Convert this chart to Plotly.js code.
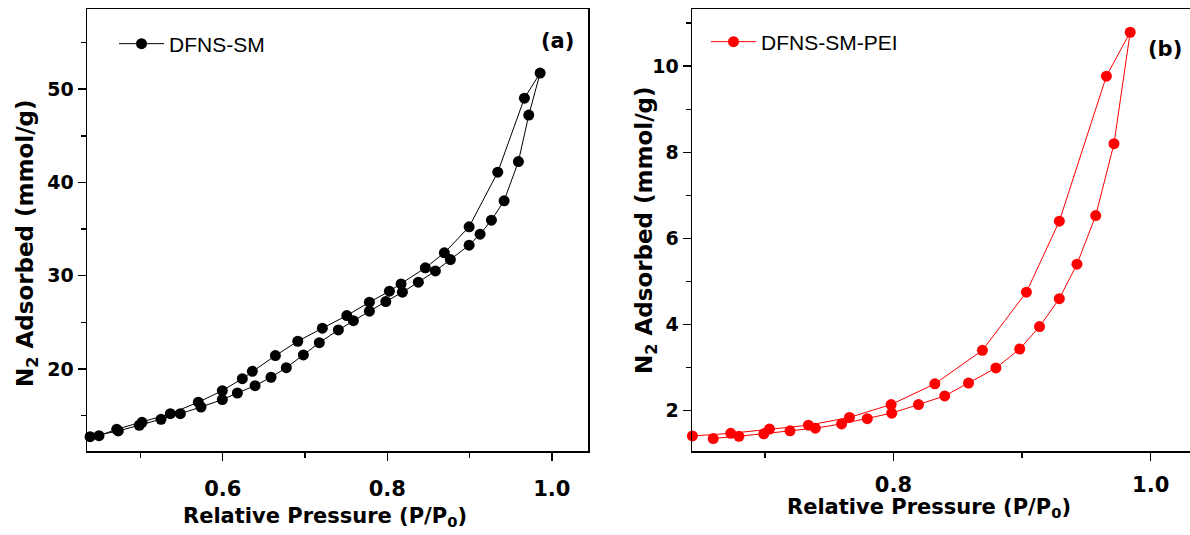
<!DOCTYPE html>
<html>
<head>
<meta charset="utf-8">
<script src="https://cdn.plot.ly/plotly-3.0.1.min.js"></script>
<style>
  html, body { margin: 0; padding: 0; background: #fff; }
  #chart { width: 1190px; height: 535px; }
</style>
</head>
<body>
<div id="chart"></div>
<script>
// ---- Panel (a): DFNS-SM ----
const smAdsP = [0.4387, 0.473, 0.4986, 0.525, 0.5485, 0.5736, 0.5995, 0.6178, 0.6393, 0.6587, 0.6773, 0.698, 0.7174, 0.7406, 0.7588, 0.7783, 0.7982, 0.8184, 0.8378, 0.8585, 0.8767, 0.8995, 0.9128, 0.9266, 0.942, 0.9594, 0.972, 0.9858];
const smAdsQ = [12.74, 13.35, 13.96, 14.6, 15.2, 15.92, 16.71, 17.42, 18.21, 19.11, 20.14, 21.5, 22.82, 24.18, 25.18, 26.19, 27.22, 28.23, 29.3, 30.51, 31.73, 33.27, 34.45, 35.95, 38.03, 42.24, 47.22, 51.73];
const smDesP = [0.9667, 0.9343, 0.8995, 0.8694, 0.8463, 0.8168, 0.8026, 0.7783, 0.7508, 0.7211, 0.6912, 0.664, 0.636, 0.6238, 0.5995, 0.5703, 0.5363, 0.5019, 0.4711, 0.4496];
const smDesQ = [49.04, 41.1, 35.24, 32.45, 30.84, 29.12, 28.34, 27.16, 25.72, 24.37, 22.97, 21.43, 19.75, 18.96, 17.67, 16.43, 15.2, 14.28, 13.53, 12.84];

// ---- Panel (b): DFNS-SM-PEI ----
const peiAdsP = [0.6599, 0.6799, 0.6992, 0.7196, 0.7393, 0.7597, 0.7797, 0.7987, 0.8195, 0.8399, 0.8584, 0.8797, 0.8982, 0.9136, 0.929, 0.9427, 0.9573, 0.9715, 0.9841];
const peiAdsQ = [1.35, 1.40, 1.46, 1.53, 1.59, 1.69, 1.81, 1.94, 2.14, 2.34, 2.64, 2.99, 3.43, 3.95, 4.60, 5.40, 6.53, 8.20, 10.79];
const peiDesP = [0.9656, 0.929, 0.9034, 0.8692, 0.8322, 0.7982, 0.7658, 0.7339, 0.7036, 0.6735, 0.6437];
const peiDesQ = [9.77, 6.40, 4.75, 3.40, 2.62, 2.14, 1.84, 1.66, 1.57, 1.47, 1.41];

const seriesNames = ['DFNS-SM', 'DFNS-SM-PEI'];
const panelLabels = ['(a)', '(b)'];
const xTitle = 'Relative Pressure (P/P<sub>0</sub>)';
const yTitle = 'N<sub>2</sub> Adsorbed (mmol/g)';

const W = 1190, H = 535;
const yTickFont = {family: 'DejaVu Sans', size: 19, color: '#000', weight: 'bold'};
const xTickFont = {family: 'DejaVu Sans', size: 21, color: '#000', weight: 'bold'};
const titleFont = {family: 'DejaVu Sans', size: 21, color: '#000', weight: 'bold'};
const ytitleFont = {family: 'DejaVu Sans', size: 23, color: '#000', weight: 'bold'};
const legendFont = {family: 'Liberation Sans, Arial, sans-serif', size: 21, color: '#000'};

const traces = [
  {
    x: smAdsP.concat(smDesP), y: smAdsQ.concat(smDesQ),
    name: seriesNames[0], mode: 'lines+markers', type: 'scatter',
    xaxis: 'x', yaxis: 'y', legend: 'legend',
    line: {color: '#000', width: 1},
    marker: {color: '#000', size: 11},
    cliponaxis: false
  },
  {
    x: peiAdsP.concat(peiDesP), y: peiAdsQ.concat(peiDesQ),
    name: seriesNames[1], mode: 'lines+markers', type: 'scatter',
    xaxis: 'x2', yaxis: 'y2', legend: 'legend2',
    line: {color: '#ff0000', width: 1},
    marker: {color: '#ff0000', size: 11},
    cliponaxis: false
  }
];

function axisCommon(font) {
  return {
    showgrid: false, zeroline: false,
    showline: true, linecolor: '#000', linewidth: 1.5, mirror: true,
    ticks: 'outside', ticklen: 8, tickwidth: 1.5, tickcolor: '#000',
    tickfont: font
  };
}
const minorTicks = (d) => ({dtick: d, ticks: 'outside', ticklen: 5, tickwidth: 1.5, tickcolor: '#000'});

const yDom = [1 - 451 / H, 1 - 9 / H];

function txt(text, x, y, font, angle) {
  return {text: text, xref: 'paper', yref: 'paper', x: x / W, y: 1 - y / H,
          xanchor: 'center', yanchor: 'middle', showarrow: false,
          textangle: angle || 0, font: font};
}

const layout = {
  width: W, height: H,
  margin: {l: 0, r: 0, t: 0, b: 0},
  paper_bgcolor: '#fff', plot_bgcolor: '#fff',
  showlegend: true,
  xaxis: Object.assign(axisCommon(xTickFont), {
    domain: [87 / W, 588 / W], range: [0.435, 1.044],
    tick0: 0, dtick: 0.2, tickformat: '.1f', ticklabelstandoff: 10,
    minor: minorTicks(0.1), anchor: 'y'
  }),
  yaxis: Object.assign(axisCommon(yTickFont), {
    domain: yDom, range: [11.2, 58.6],
    tick0: 0, dtick: 10, minor: minorTicks(5), anchor: 'x'
  }),
  xaxis2: Object.assign(axisCommon(xTickFont), {
    domain: [692 / W, 1], range: [0.6434, 1.0306],
    tick0: 0, dtick: 0.2, tickformat: '.1f', ticklabelstandoff: 6,
    minor: minorTicks(0.1), anchor: 'y2'
  }),
  yaxis2: Object.assign(axisCommon(yTickFont), {
    domain: yDom, range: [1.06, 11.33],
    tick0: 0, dtick: 2, minor: minorTicks(1), anchor: 'x2'
  }),
  legend: {
    x: 114 / W, y: 1 - 44 / H, xanchor: 'left', yanchor: 'middle',
    itemwidth: 45,
    bgcolor: 'rgba(0,0,0,0)', borderwidth: 0, font: legendFont
  },
  legend2: {
    x: 706 / W, y: 1 - 42 / H, xanchor: 'left', yanchor: 'middle',
    itemwidth: 45,
    bgcolor: 'rgba(0,0,0,0)', borderwidth: 0, font: legendFont
  },
  annotations: [
    txt(panelLabels[0], 557, 41, {family: 'DejaVu Sans', size: 21, color: '#000', weight: 'bold'}),
    txt(panelLabels[1], 1165, 49, {family: 'DejaVu Sans', size: 21, color: '#000', weight: 'bold'}),
    txt(xTitle, 325, 517, titleFont),
    txt(xTitle, 929, 508, titleFont),
    txt(yTitle, 27, 243, ytitleFont, -90),
    txt(yTitle, 646, 230, ytitleFont, -90)
  ]
};

Plotly.newPlot('chart', traces, layout, {displayModeBar: false, staticPlot: true});
</script>
</body>
</html>
